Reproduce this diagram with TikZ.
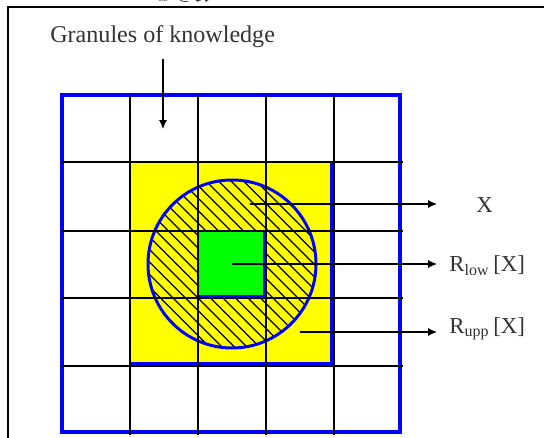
\documentclass[tikz,border=0pt]{standalone}
\usepackage{fontspec}
\setmainfont{Liberation Serif}
\usetikzlibrary{arrows.meta}
\definecolor{granblue}{RGB}{0,0,255}
\definecolor{granyellow}{RGB}{255,255,0}
\definecolor{grangreen}{RGB}{0,255,0}
\tikzset{
  gridline/.style={line width=0.85pt},
  hatchline/.style={line width=0.75pt},
  pointer/.style={line width=0.7pt,-{Latex[length=5pt,width=4.5pt]}},
  tag/.style={inner sep=0pt,text=black!80,font=\fontsize{13}{15}\selectfont}
}
\begin{document}
\begin{tikzpicture}[x=0.02cm,y=-0.02cm]
\useasboundingbox (0,0) rectangle (544,438);
\draw[line width=1pt] (8,438) -- (8,7) -- (544,7);
\node[anchor=base,inner sep=0pt,text=black!85,font=\fontsize{13}{15}\selectfont] (formula) at (185,2) {$x\in\mathcal{U}$};
\fill[granblue] (130,162) rectangle (334,366);
\fill[granyellow] (130,162) rectangle (330,362);
\begin{scope}
\clip (232,264) circle [radius=84];
\foreach \k in {-150,-137.5,...,215}
  \draw[hatchline] (100,100+\k) -- (400,400+\k);
\end{scope}
\draw[granblue,line width=1.7pt] (232,264) circle [radius=84];
\fill[granblue] (198,231) rectangle (267,298);
\fill[grangreen] (198,231) rectangle (263,295);
\draw[granblue,line width=2pt] (62,95) rectangle (400,432);
\draw[gridline] (130,95) -- (130,435);
\draw[gridline] (62,162) -- (403,162);
\draw[gridline] (198,95) -- (198,435);
\draw[gridline] (62,231) -- (403,231);
\draw[gridline] (266,95) -- (266,435);
\draw[gridline] (62,298) -- (403,298);
\draw[gridline] (334,95) -- (334,435);
\draw[gridline] (62,366) -- (403,366);
\node[tag,anchor=base west,font=\fontsize{13.7}{16}\selectfont] (granules) at (50,43) {Granules of knowledge};
\coordinate (gtop) at (163,59);
\coordinate (gcell) at (163,129);
\draw[pointer] (gtop) -- (gcell);
\node[tag,anchor=west] (xlab) at (476,205) {X};
\node[tag,anchor=west] (lowlab) at (449,266) {R\textsubscript{low}\,[X]};
\node[tag,anchor=west] (upplab) at (449,329) {R\textsubscript{upp}\,[X]};
\coordinate (xstart) at (250,204);
\coordinate (xend) at (437,204);
\coordinate (lowstart) at (232,264);
\coordinate (lowend) at (437,264);
\coordinate (uppstart) at (300,332);
\coordinate (uppend) at (437,332);
\draw[pointer] (xstart) -- (xend);
\draw[pointer] (lowstart) -- (lowend);
\draw[pointer] (uppstart) -- (uppend);
\end{tikzpicture}
\end{document}
